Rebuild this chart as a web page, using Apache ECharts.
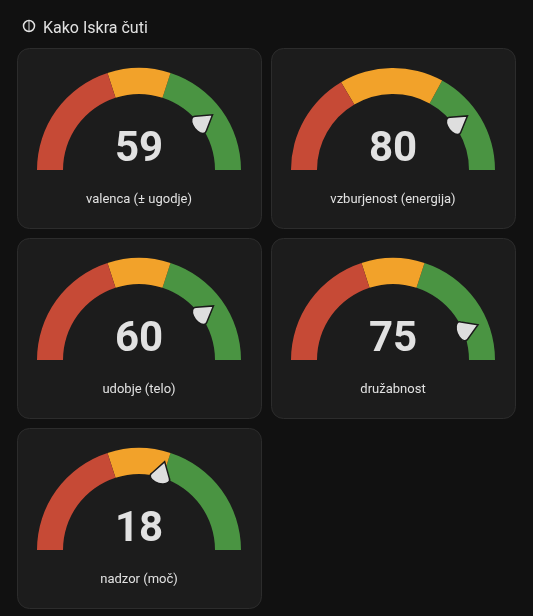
<!DOCTYPE html>
<html><head><meta charset="utf-8">
<script src="https://cdn.jsdelivr.net/npm/echarts@6/dist/echarts.min.js"></script>
<style>html,body{margin:0;background:#111111;}#c{width:533px;height:616px;}</style>
</head><body><div id="c"></div>
<script>
const labels = ['valenca (± ugodje)', 'vzburjenost (energija)', 'udobje (telo)', 'družabnost', 'nadzor (moč)'];
const values = [59, 80, 60, 75, 18];
const mins = [-100, 0, -100, -100, -100];
const maxs = [100, 100, 100, 100, 100];
const lowThresholds = [-20, 33, -20, -20, -20];
const highThresholds = [20, 66, 20, 20, 20];
const cards = [[17,48],[271,48],[17,238],[271,238],[17,428]];
const CW = 244, CH = 180;

const chart = echarts.init(document.getElementById('c'));
const needle = 'path://M10,0 L15.5,16 A6,6 0 1 1 4.5,16 Z M10,100 L10.01,100 Z';
const series = values.map((v, i) => {
  const mn = mins[i], mx = maxs[i];
  const f1 = (lowThresholds[i] - mn) / (mx - mn), f2 = (highThresholds[i] - mn) / (mx - mn);
  return {
    type: 'gauge', startAngle: 180, endAngle: 0, min: mn, max: mx,
    center: [cards[i][0] + 122, cards[i][1] + 122], radius: 102,
    axisLine: { lineStyle: { width: 26, color: [[f1, '#c64a36'], [f2, '#f2a22a'], [1, '#4a9442']] } },
    splitLine: { show: false }, axisTick: { show: false }, axisLabel: { show: false },
    pointer: { show: true, icon: needle, length: 92, width: 20, offsetCenter: [0, 0], itemStyle: { color: '#dedede', borderColor: '#1a1a1a', borderWidth: 1.5 } },
    anchor: { show: false },
    title: { show: true, offsetCenter: [0, 30], color: '#e1e1e1', fontSize: 13, fontFamily: 'Roboto' },
    detail: { valueAnimation: false, offsetCenter: [0, -20], color: '#e1e1e1', fontSize: 42, fontFamily: 'Roboto', formatter: '{value}' },
    data: [{ value: v, name: labels[i] }]
  };
});
const graphic = cards.map(c => ({ type: 'rect', silent: true, z: -1, shape: { x: c[0]+0.5, y: c[1]+0.5, width: CW, height: CH, r: 12 }, style: { fill: '#1c1c1c', stroke: '#2c2c2c', lineWidth: 1 } }));
graphic.push({ type: 'circle', shape: { cx: 29, cy: 26, r: 5.5 }, style: { fill: 'none', stroke: '#e1e1e1', lineWidth: 1.5 } });
graphic.push({ type: 'line', shape: { x1: 29, y1: 21, x2: 29, y2: 31 }, style: { stroke: '#e1e1e1', lineWidth: 1 } });
chart.setOption({
  backgroundColor: '#111111', animation: false,
  title: { text: 'Kako Iskra čuti', left: 38, top: 16, textStyle: { color: '#e1e1e1', fontSize: 16, fontWeight: 'normal', fontFamily: 'Roboto' } },
  graphic: graphic,
  series: series
});
</script></body></html>
